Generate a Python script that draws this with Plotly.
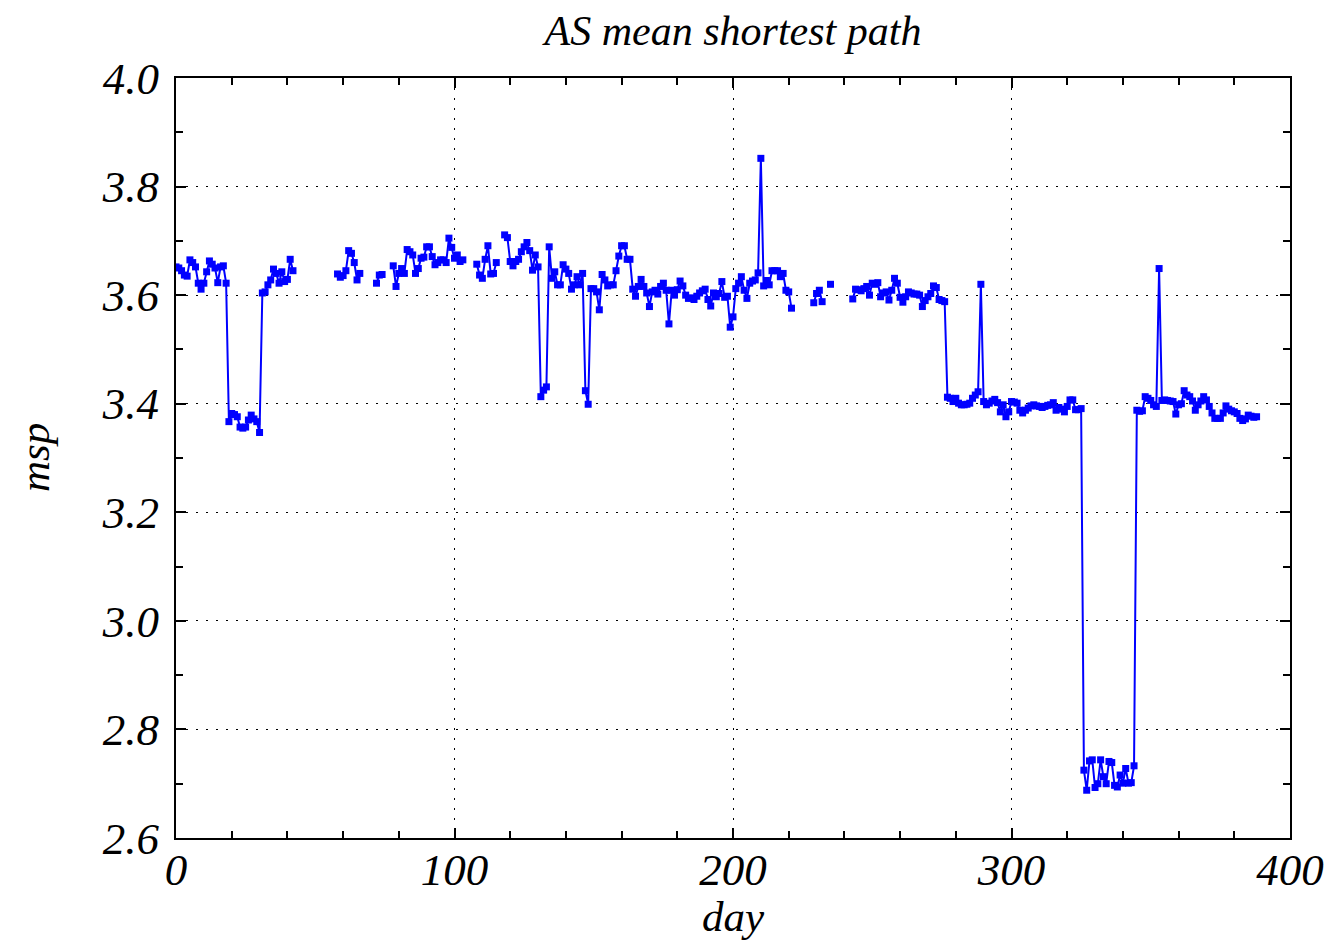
import plotly.graph_objects as go

# ---- data ----
seg1_start = 0
seg1_msp = [3.652, 3.650, 3.645, 3.637, 3.635, 3.665, 3.660, 3.652, 3.622, 3.611,
            3.622, 3.643, 3.663, 3.657, 3.650, 3.623, 3.652, 3.654, 3.622, 3.367,
            3.382, 3.380, 3.376, 3.357, 3.355, 3.357, 3.370, 3.379, 3.372, 3.367,
            3.347, 3.604, 3.606, 3.619, 3.628, 3.648, 3.640, 3.622, 3.643, 3.625,
            3.629, 3.666, 3.645]
seg2_start = 58
seg2_msp = [3.639, 3.633, 3.636, 3.645, 3.682, 3.677, 3.660, 3.628, 3.640]
seg3_start = 72
seg3_msp = [3.622, 3.637, 3.638]
seg4_start = 78
seg4_msp = [3.654, 3.616, 3.640, 3.649, 3.640, 3.684, 3.680, 3.674, 3.640, 3.649,
            3.668, 3.670, 3.689, 3.689, 3.671, 3.656, 3.660, 3.665, 3.665, 3.660,
            3.705, 3.688, 3.668, 3.674, 3.662, 3.665]
seg5_start = 108
seg5_msp = [3.657, 3.637, 3.631, 3.666, 3.691, 3.639, 3.640, 3.660]
seg6_start = 118
seg6_msp = [3.711, 3.706, 3.662, 3.654, 3.662, 3.666, 3.680, 3.689, 3.697, 3.682,
            3.646, 3.674, 3.652, 3.413, 3.425, 3.431, 3.689, 3.631, 3.643, 3.619,
            3.619, 3.656, 3.648, 3.640, 3.611, 3.619, 3.634, 3.619, 3.640, 3.424,
            3.399, 3.612, 3.612, 3.606, 3.573, 3.638, 3.628, 3.617, 3.619, 3.619,
            3.645, 3.672, 3.691, 3.691, 3.666, 3.666, 3.611, 3.598, 3.616, 3.629,
            3.616, 3.604, 3.579, 3.606, 3.609, 3.602, 3.616, 3.622, 3.609, 3.547,
            3.609, 3.600, 3.610, 3.626, 3.617, 3.600, 3.594, 3.595, 3.592, 3.598,
            3.604, 3.608, 3.611, 3.592, 3.580, 3.604, 3.597, 3.603, 3.625, 3.596,
            3.598, 3.541, 3.560, 3.612, 3.622, 3.634, 3.609, 3.594, 3.622, 3.626,
            3.628, 3.641, 3.852, 3.617, 3.627, 3.619, 3.645, 3.645, 3.645, 3.634,
            3.640, 3.609, 3.606, 3.576]
seg7_start = 229
seg7_msp = [3.586, 3.603, 3.609, 3.588]
seg8_start = 235
seg8_msp = [3.620]
seg9_start = 243
seg9_msp = [3.593, 3.611, 3.610, 3.608, 3.612, 3.616, 3.600, 3.622, 3.620, 3.623,
            3.597, 3.604, 3.606, 3.591, 3.609, 3.631, 3.622, 3.596, 3.587, 3.597,
            3.606, 3.604, 3.602, 3.602, 3.600, 3.579, 3.590, 3.597, 3.603, 3.617,
            3.614, 3.592, 3.590, 3.588, 3.412, 3.410, 3.404, 3.410, 3.401, 3.398,
            3.398, 3.399, 3.401, 3.410, 3.416, 3.422, 3.620, 3.404, 3.398, 3.401,
            3.405, 3.408, 3.402, 3.385, 3.398, 3.376, 3.385, 3.404, 3.403, 3.401,
            3.388, 3.383, 3.388, 3.392, 3.396, 3.398, 3.396, 3.395, 3.393, 3.395,
            3.397, 3.398, 3.402, 3.388, 3.393, 3.390, 3.385, 3.395, 3.407, 3.407,
            3.389, 3.389, 3.391, 2.725, 2.688, 2.742, 2.744, 2.693, 2.700, 2.744,
            2.713, 2.700, 2.741, 2.739, 2.697, 2.694, 2.716, 2.701, 2.728, 2.701,
            2.702, 2.733, 3.388, 3.386, 3.387, 3.413, 3.410, 3.406, 3.398, 3.395,
            3.649, 3.406, 3.407, 3.406, 3.405, 3.404, 3.381, 3.398, 3.400, 3.424,
            3.416, 3.413, 3.405, 3.388, 3.398, 3.405, 3.413, 3.407, 3.395, 3.383,
            3.373, 3.373, 3.373, 3.383, 3.396, 3.390, 3.387, 3.385, 3.382, 3.373,
            3.369, 3.372, 3.379, 3.377, 3.375, 3.376]

segments = [(seg1_start, seg1_msp), (seg2_start, seg2_msp), (seg3_start, seg3_msp),
            (seg4_start, seg4_msp), (seg5_start, seg5_msp), (seg6_start, seg6_msp),
            (seg7_start, seg7_msp), (seg8_start, seg8_msp), (seg9_start, seg9_msp)]

y_ticks = [2.6, 2.8, 3.0, 3.2, 3.4, 3.6, 3.8, 4.0]
x_ticks = [0, 100, 200, 300, 400]

days, msp = [], []
for start, vals in segments:
    days += [start + i for i in range(len(vals))] + [None]
    msp += list(vals) + [None]

FONT = "Liberation Serif"
BLUE = "#0000ff"
tick_font = dict(family=FONT, size=45, color="black", style="italic")
label_font = dict(family=FONT, size=43, color="black", style="italic")

fig = go.Figure()
fig.add_trace(go.Scatter(
    x=days, y=msp, mode="lines+markers", connectgaps=False,
    line=dict(color=BLUE, width=2),
    marker=dict(symbol="square", size=7, color=BLUE),
    showlegend=False,
))

axis_common = dict(
    showline=True, linecolor="black", linewidth=2, mirror="ticks",
    ticks="inside", ticklen=10, tickwidth=1.5, tickcolor="black",
    showgrid=True, gridcolor="black", gridwidth=1.2, griddash="2px,8px",
    zeroline=False, automargin=False,
    tickfont=tick_font,
)

fig.update_xaxes(
    range=[0, 400], tickvals=x_ticks, ticktext=[str(v) for v in x_ticks],
    minor=dict(dtick=20, ticks="inside", ticklen=7, tickcolor="black", showgrid=False),
    ticklabelstandoff=-9,
    **axis_common,
)
fig.update_yaxes(
    range=[2.6, 4.0], tickvals=y_ticks, ticktext=[f"{v:.1f}" for v in y_ticks],
    minor=dict(dtick=0.1, ticks="inside", ticklen=7, tickcolor="black", showgrid=False),
    ticklabelstandoff=6,
    **axis_common,
)

# axis titles placed as annotations (pixel offsets from the plot edges)
fig.add_annotation(text="day", xref="paper", yref="paper", x=0.5, y=0,
                   xanchor="center", yanchor="middle", yshift=-78,
                   showarrow=False, font=label_font)
fig.add_annotation(text="msp", xref="paper", yref="paper", x=0, y=0.5,
                   xanchor="center", yanchor="middle", xshift=-142, textangle=-90,
                   showarrow=False, font=label_font)

fig.update_layout(
    width=1326, height=934,
    margin=dict(l=168, r=44, t=70, b=104, autoexpand=False),
    paper_bgcolor="white", plot_bgcolor="white",
    title=dict(text="AS mean shortest path", x=0.5, xref="paper", xanchor="center",
               y=1 - 22 / 934, yref="container", yanchor="middle",
               font=dict(family=FONT, size=42, color="black", style="italic")),
)

fig.write_html("out.html")
